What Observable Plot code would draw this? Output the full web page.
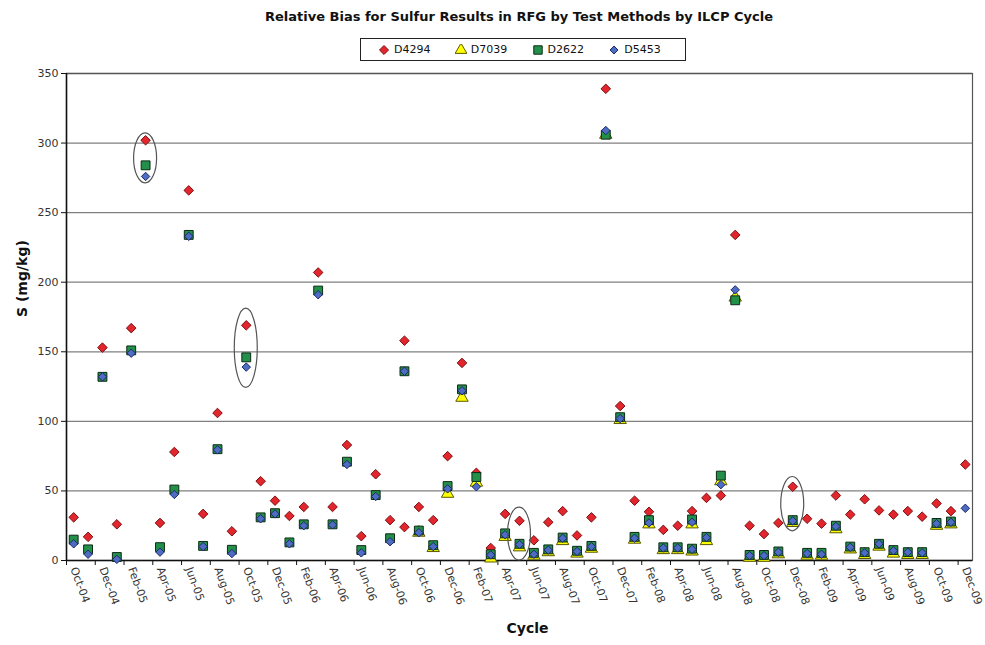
<!DOCTYPE html>
<html>
<head>
<meta charset="utf-8">
<script src="https://cdn.jsdelivr.net/npm/d3@7"></script>
<script src="https://cdn.jsdelivr.net/npm/@observablehq/plot@0.6"></script>
<style>
  body { margin: 0; background: #fff; font-family: "DejaVu Sans", Verdana, sans-serif; }
  #wrap { position: relative; width: 985px; height: 645px; }
  #title { position: absolute; left: 66px; width: 906px; top: 9px; text-align: center; font-weight: bold; font-size: 13px; color: #111; z-index: 2; }
  #legend { position: absolute; left: 360px; top: 38px; width: 326px; height: 23px; border: 1px solid #222; box-sizing: border-box; padding-left: 17px; display: flex; align-items: center; font-size: 11px; color: #111; background: #fff; z-index: 2; }
  .item { width: 77px; display: flex; align-items: center; }
  .item svg { margin-right: 4px; }
  #chart { position: absolute; left: 0; top: 62px; z-index: 1; }
</style>
</head>
<body>
<div id="wrap">
  <div id="title">Relative Bias for Sulfur Results in RFG by Test Methods by ILCP Cycle</div>
  <div id="legend"></div>
  <div id="chart"></div>
</div>
<script>
// ---- Category axis (monthly cycles) ----
const categories = [
  "Oct-04","Nov-04","Dec-04","Jan-05","Feb-05","Mar-05","Apr-05","May-05","Jun-05","Jul-05","Aug-05","Sep-05",
  "Oct-05","Nov-05","Dec-05","Jan-06","Feb-06","Mar-06","Apr-06","May-06","Jun-06","Jul-06","Aug-06","Sep-06",
  "Oct-06","Nov-06","Dec-06","Jan-07","Feb-07","Mar-07","Apr-07","May-07","Jun-07","Jul-07","Aug-07","Sep-07",
  "Oct-07","Nov-07","Dec-07","Jan-08","Feb-08","Mar-08","Apr-08","May-08","Jun-08","Jul-08","Aug-08","Sep-08",
  "Oct-08","Nov-08","Dec-08","Jan-09","Feb-09","Mar-09","Apr-09","May-09","Jun-09","Jul-09","Aug-09","Sep-09",
  "Oct-09","Nov-09","Dec-09"
];
const tickLabels = ["Oct-04","Dec-04","Feb-05","Apr-05","Jun-05","Aug-05","Oct-05","Dec-05","Feb-06","Apr-06","Jun-06","Aug-06",
  "Oct-06","Dec-06","Feb-07","Apr-07","Jun-07","Aug-07","Oct-07","Dec-07","Feb-08","Apr-08","Jun-08","Aug-08",
  "Oct-08","Dec-08","Feb-09","Apr-09","Jun-09","Aug-09","Oct-09","Dec-09"];
const yTicks = [0, 50, 100, 150, 200, 250, 300, 350];

// ---- Samples (cycle of each sample) ----
const sampleCycles = [
  "Oct-04","Nov-04","Dec-04","Jan-05","Feb-05","Mar-05","Apr-05","May-05","Jun-05","Jul-05","Aug-05","Sep-05",
  "Oct-05","Nov-05","Dec-05","Jan-06","Feb-06","Mar-06","Apr-06","May-06","Jun-06","Jul-06","Aug-06","Sep-06","Sep-06",
  "Oct-06","Nov-06","Dec-06","Jan-07","Feb-07","Mar-07","Apr-07","May-07","Jun-07","Jul-07","Aug-07","Sep-07",
  "Oct-07","Nov-07","Dec-07","Jan-08","Feb-08","Mar-08","Apr-08","May-08","May-08","Jun-08","Jul-08","Aug-08","Sep-08",
  "Oct-08","Nov-08","Dec-08","Jan-09","Feb-09","Mar-09","Apr-09","May-09","Jun-09","Jul-09","Aug-09","Sep-09",
  "Oct-09","Nov-09","Dec-09"
];
const D4294 = [
  31, 17, 153, 26, 167, 302, 27, 78, 266, 33.5, 106, 21,
  169, 57, 43, 32, 38.5, 207, 38.5, 83, 17.5, 62, 29, 158, 24,
  38.5, 29, 75, 142, 63, 9, 33.5, 28.5, 14.5, 27.5, 35.5, 18,
  31, 339, 111, 43, 35, 22, 25, 35.5, null, 45, 46.7, 234, 25,
  19, 27, 53, 30, 26.5, 46.7, 33, 44, 36, 33, 35.5, 31.5,
  41, 35.5, 69
];
const D7039 = [
  null, null, null, null, null, null, null, null, null, null, null, null,
  null, null, null, null, null, null, null, null, null, null, null, null, null,
  20, 9, 48, 117, 56, 1.5, 17, 9.5, 3.5, 6, 14, 5,
  8.5, 306, 101, 15, 26, 7.5, 7.5, 26, 6.5, 14, 57, 189, 2,
  2, 4.5, 27, 3.5, 3.5, 22.5, 8, 4, 10, 5, 4, 4,
  25, 26, null
];
const D2622 = [
  15, 8, 132, 2.5, 151, 284, 9.6, 51, 234, 10.5, 80, 7.7,
  146, 31, 34, 13, 26, 194, 26, 71, 7.5, 47, 16, 136, null,
  21.5, 11, 53.5, 123, 60, 4.5, 19.5, 12, 5.5, 8, 16.5, 7,
  10.5, 306, 103, 17, 29, 9.5, 9.5, 29.5, 8.5, 17, 61, 187, 4,
  4, 6.5, 29, 5.5, 5.5, 25, 10, 6, 12, 7.5, 6, 6,
  27, 28, null
];
const D5453 = [
  12, 4.5, 132, 0.8, 149, 276, 6, 47.5, 233, 10, 79.5, 5,
  139, 30, 33.5, 12, 25, 191, 25.6, 69, 5.5, 46, 13.5, 136, null,
  20, 10, 51.5, 122, 53, 4, 18.5, 11.5, 4.5, 7.5, 16, 6.5,
  10, 309, 102, 16, 27, 9, 9, 27.5, 8, 16.5, 54.5, 194.5, 3.5,
  3.5, 6, 28.5, 5, 4.5, 24.5, 9.5, 5.5, 12, 7, 6, 5.5,
  26.5, 27.5, 37.5
];

// ---- Circled cycles (annotation ovals, value range enclosed) ----
const circledCycles = ["Mar-05", "Oct-05", "May-07", "Dec-08"];
const circledLow  = [271, 124, 0, 21];
const circledHigh = [307, 181, 38, 60];

// ---- Series styling ----
const seriesNames = ["D4294", "D7039", "D2622", "D5453"];
const seriesValues = [D4294, D7039, D2622, D5453];
const styles = {
  D4294: {symbol: "diamond2", r: 4.3, fill: "#e3262d", stroke: "#7a1010"},
  D7039: {symbol: "triangle", r: 4.6, fill: "#ffff00", stroke: "#5a5a00"},
  D2622: {symbol: "square",   r: 5.0, fill: "#23904a", stroke: "#0d2a16"},
  D5453: {symbol: "diamond2", r: 3.8, fill: "#4f6cc4", stroke: "#1b2a66"}
};

const idx = c => categories.indexOf(c);
const rows = vals => sampleCycles.map((c, k) => ({i: idx(c), v: vals[k]})).filter(d => d.v != null);

const labelIdx = tickLabels.map(idx);
const boundaryTicks = labelIdx.map(i => i - 0.5);

const dotMarks = seriesNames.map((name, s) => {
  const st = styles[name];
  return Plot.dot(rows(seriesValues[s]), {
    x: "i", y: "v", symbol: () => st.symbol, r: st.r,
    fill: st.fill, stroke: st.stroke, strokeWidth: 1
  });
});

const plot = Plot.plot({
  width: 985, height: 583,
  marginTop: 11, marginBottom: 85, marginLeft: 66, marginRight: 13,
  style: {fontFamily: "'DejaVu Sans', Verdana, sans-serif", background: "white", overflow: "visible"},
  x: {type: "linear", domain: [-0.5, categories.length - 0.5]},
  y: {type: "linear", domain: [0, 350]},
  symbol: {type: "identity"},
  marks: [
    Plot.ruleY(yTicks.filter(t => t > 0), {stroke: "#808080", strokeWidth: 1.3}),
    Plot.frame({stroke: "#555", strokeWidth: 1.2}),
    Plot.axisY({ticks: yTicks, tickSize: 5, tickPadding: 3, fontSize: 11, fill: "#333", stroke: "#111", label: null}),
    Plot.axisX({ticks: labelIdx, tickFormat: i => categories[i], tickSize: 0, tickPadding: 7, tickRotate: 70, fontSize: 11, fill: "#333", label: null}),
    Plot.axisX({ticks: boundaryTicks, tickFormat: () => "", tickSize: 5, stroke: "#111", label: null}),
    Plot.ruleY([0], {stroke: "#111", strokeWidth: 1.5}),
    Plot.ruleX([-0.5], {stroke: "#111", strokeWidth: 1.5}),
    ...dotMarks,
    Plot.text(["S (mg/kg)"], {frameAnchor: "left", dx: -44, rotate: -90, fontWeight: "bold", fontSize: 14, fill: "#111"}),
    Plot.text(["Cycle"], {frameAnchor: "bottom", dx: 8, dy: 72, fontWeight: "bold", fontSize: 14, fill: "#111"})
  ]
});

// annotation ovals drawn through the plot's own scales
const xs = plot.scale("x"), ys = plot.scale("y");
const sx = d3.scaleLinear(xs.domain, xs.range), sy = d3.scaleLinear(ys.domain, ys.range);
d3.select(plot).append("g")
  .selectAll("ellipse")
  .data(circledCycles.map((c, k) => ({c, lo: circledLow[k], hi: circledHigh[k]})))
  .join("ellipse")
  .attr("cx", d => sx(idx(d.c)))
  .attr("cy", d => (sy(d.lo) + sy(d.hi)) / 2)
  .attr("rx", 11.5)
  .attr("ry", d => (sy(d.lo) - sy(d.hi)) / 2)
  .attr("fill", "none").attr("stroke", "#555").attr("stroke-width", 1.2);

document.getElementById("chart").appendChild(plot);

// legend
const legend = d3.select("#legend");
seriesNames.forEach(name => {
  const st = styles[name];
  const item = legend.append("div").attr("class", "item");
  const svg = item.append("svg").attr("width", 12).attr("height", 12);
  const sym = {diamond2: d3.symbolDiamond2, triangle: d3.symbolTriangle, square: d3.symbolSquare}[st.symbol];
  svg.append("path")
    .attr("transform", "translate(6,6)")
    .attr("d", d3.symbol(sym, Math.PI * st.r * st.r * 0.9)())
    .attr("fill", st.fill).attr("stroke", st.stroke).attr("stroke-width", 1);
  item.append("span").text(name);
});
</script>
</body>
</html>
